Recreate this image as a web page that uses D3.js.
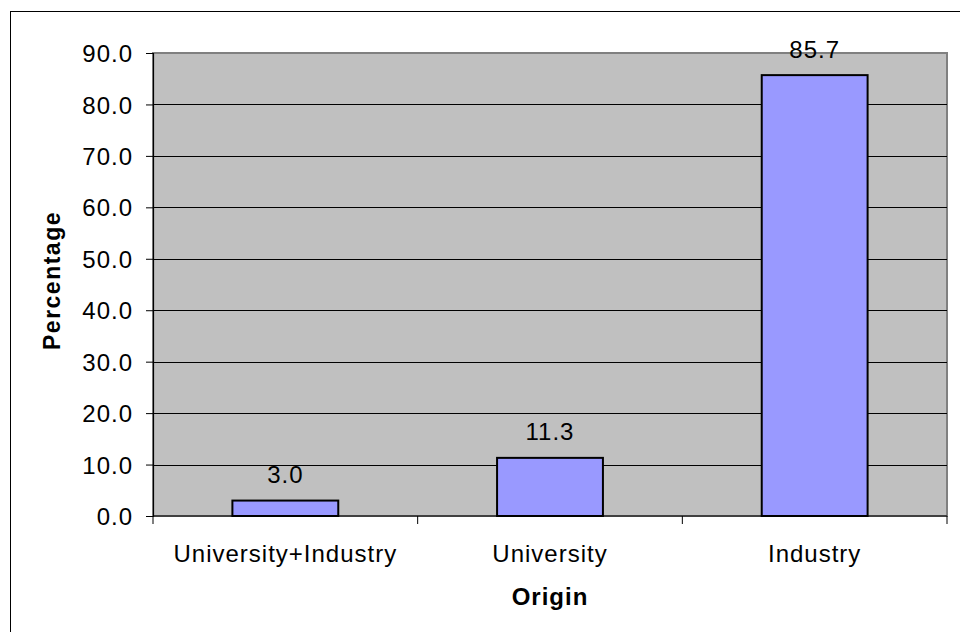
<!DOCTYPE html>
<html>
<head>
<meta charset="utf-8">
<script src="https://cdn.jsdelivr.net/npm/d3@7"></script>
<style>
  html, body { margin: 0; padding: 0; background: #fff; }
  svg { display: block; font-family: "Liberation Sans", Arial, sans-serif; }
</style>
</head>
<body>
<svg id="chart" width="960" height="632"></svg>
<script>
// Share of items by origin (percent)
const categories = ["University+Industry", "University", "Industry"];
const values = [3.0, 11.3, 85.7];
const yTicks = [0, 10, 20, 30, 40, 50, 60, 70, 80, 90];
const xTitle = "Origin";
const yTitle = "Percentage";

const svg = d3.select("#chart");
const plot = { left: 153, top: 53, right: 947, bottom: 516 };

const x = d3.scaleBand()
  .domain(categories)
  .range([plot.left, plot.right])
  .paddingInner(0.6)
  .paddingOuter(0.3);

const y = d3.scaleLinear()
  .domain([0, 90])
  .range([plot.bottom, plot.top]);

const fmt = d3.format(".1f");

// outer chart frame
svg.append("rect")
  .attr("x", 10.5).attr("y", 11.5)
  .attr("width", 960).attr("height", 640)
  .attr("fill", "#fff").attr("stroke", "#000").attr("stroke-width", 1);

// plot area
svg.append("rect")
  .attr("x", plot.left).attr("y", plot.top)
  .attr("width", plot.right - plot.left).attr("height", plot.bottom - plot.top)
  .attr("fill", "#C0C0C0").attr("stroke", "#808080").attr("stroke-width", 2);

// horizontal gridlines
svg.append("g")
  .selectAll("line")
  .data(yTicks.filter(d => d > 0 && d < 90))
  .join("line")
  .attr("x1", plot.left).attr("x2", plot.right)
  .attr("y1", d => Math.round(y(d)) + 0.5).attr("y2", d => Math.round(y(d)) + 0.5)
  .attr("stroke", "#000").attr("stroke-width", 1);

// bars
svg.append("g")
  .selectAll("rect")
  .data(values)
  .join("rect")
  .attr("x", (d, i) => x(categories[i]))
  .attr("y", d => y(d))
  .attr("width", x.bandwidth())
  .attr("height", d => plot.bottom - y(d))
  .attr("fill", "#9999FF")
  .attr("stroke", "#000").attr("stroke-width", 2);

// value labels
svg.append("g")
  .selectAll("text")
  .data(values)
  .join("text")
  .attr("x", (d, i) => x(categories[i]) + x.bandwidth() / 2)
  .attr("y", d => y(d) - 17.5)
  .attr("text-anchor", "middle")
  .attr("font-size", 24)
  .attr("letter-spacing", 1)
  .attr("fill", "#000")
  .text(d => fmt(d));

// y axis
const yAxis = d3.axisLeft(y)
  .tickValues(yTicks)
  .tickFormat(fmt)
  .tickSize(7)
  .tickPadding(13);
const gy = svg.append("g")
  .attr("transform", `translate(${plot.left},0)`)
  .call(yAxis);
gy.select(".domain").attr("stroke", "#000").attr("stroke-width", 1.2);
gy.selectAll(".tick line").attr("stroke", "#000");
gy.selectAll(".tick text")
  .attr("font-family", "Liberation Sans, Arial, sans-serif")
  .attr("font-size", 24)
  .attr("letter-spacing", 1)
  .attr("fill", "#000")
  .attr("dy", "0.36em");

// x axis line and category boundary ticks
const bounds = d3.range(categories.length + 1).map(i => plot.left + i * (plot.right - plot.left) / categories.length);
const gx = svg.append("g");
gx.append("line")
  .attr("x1", plot.left).attr("x2", plot.right)
  .attr("y1", plot.bottom).attr("y2", plot.bottom)
  .attr("stroke", "#000").attr("stroke-width", 1.2);
gx.selectAll("line.b")
  .data(bounds)
  .join("line")
  .attr("class", "b")
  .attr("x1", d => d).attr("x2", d => d)
  .attr("y1", plot.bottom).attr("y2", plot.bottom + 8)
  .attr("stroke", "#000").attr("stroke-width", 1);
gx.selectAll("text")
  .data(categories)
  .join("text")
  .attr("x", d => x(d) + x.bandwidth() / 2)
  .attr("y", 562)
  .attr("text-anchor", "middle")
  .attr("font-size", 24)
  .attr("letter-spacing", 1)
  .attr("fill", "#000")
  .text(d => d);

// axis titles
svg.append("text")
  .attr("x", (plot.left + plot.right) / 2)
  .attr("y", 605)
  .attr("text-anchor", "middle")
  .attr("font-size", 24)
  .attr("font-weight", "bold")
  .attr("letter-spacing", 1)
  .text(xTitle);

svg.append("text")
  .attr("transform", `translate(60,${(plot.top + plot.bottom) / 2 - 4}) rotate(-90)`)
  .attr("text-anchor", "middle")
  .attr("font-size", 23)
  .attr("font-weight", "bold")
  .attr("letter-spacing", 1.5)
  .text(yTitle);
</script>
</body>
</html>
